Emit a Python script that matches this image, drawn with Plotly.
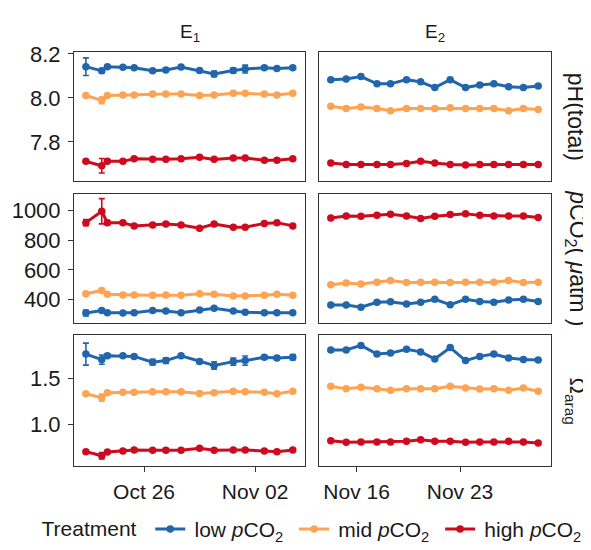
import plotly.graph_objects as go
from plotly.subplots import make_subplots

# ---------------- data ----------------
dates_e1 = ["2020-10-22 08:00", "2020-10-23 08:00", "2020-10-23 16:30", "2020-10-24 16:00",
            "2020-10-25 09:00", "2020-10-26 13:00", "2020-10-27 09:00", "2020-10-28 08:00",
            "2020-10-29 12:00", "2020-10-30 10:00", "2020-10-31 15:00", "2020-11-01 09:00",
            "2020-11-02 14:00", "2020-11-03 09:00", "2020-11-04 09:00"]
dates_e2 = ["2020-11-14 06:00", "2020-11-15 07:00", "2020-11-16 07:00", "2020-11-17 09:00",
            "2020-11-18 07:00", "2020-11-19 09:00", "2020-11-20 08:00", "2020-11-21 07:00",
            "2020-11-22 08:00", "2020-11-23 09:00", "2020-11-24 08:00", "2020-11-25 07:00",
            "2020-11-26 07:00", "2020-11-27 07:00", "2020-11-28 07:00"]

treatments = ["low", "mid", "high"]

# pH (total)
ph_e1_low = [8.142, 8.123, 8.142, 8.139, 8.137, 8.123, 8.127, 8.140, 8.124, 8.109, 8.125, 8.131, 8.137, 8.134, 8.137]
ph_e1_mid = [8.011, 7.989, 8.011, 8.013, 8.013, 8.018, 8.018, 8.018, 8.011, 8.013, 8.021, 8.021, 8.018, 8.013, 8.021]
ph_e1_high = [7.712, 7.692, 7.712, 7.712, 7.724, 7.721, 7.721, 7.724, 7.731, 7.721, 7.727, 7.727, 7.717, 7.717, 7.724]
ph_e1_low_sd = [0.040, 0.010, 0.005, 0.005, 0.005, 0.005, 0.007, 0.005, 0.005, 0.013, 0.012, 0.018, 0.005, 0.006, 0.006]
ph_e1_mid_sd = [0.005, 0.015, 0.004, 0.004, 0.004, 0.004, 0.004, 0.004, 0.004, 0.004, 0.004, 0.004, 0.004, 0.004, 0.004]
ph_e1_high_sd = [0.006, 0.033, 0.006, 0.004, 0.004, 0.004, 0.004, 0.004, 0.004, 0.004, 0.004, 0.004, 0.004, 0.004, 0.004]

ph_e2_low = [8.083, 8.086, 8.097, 8.064, 8.064, 8.083, 8.073, 8.047, 8.083, 8.047, 8.059, 8.064, 8.051, 8.047, 8.054]
ph_e2_mid = [7.962, 7.952, 7.959, 7.952, 7.942, 7.952, 7.952, 7.952, 7.955, 7.952, 7.952, 7.952, 7.942, 7.952, 7.947]
ph_e2_high = [7.705, 7.698, 7.698, 7.698, 7.698, 7.702, 7.712, 7.705, 7.698, 7.695, 7.698, 7.698, 7.698, 7.698, 7.698]

# pCO2 (uatm)
pco2_e1_low = [309, 326, 311, 309, 311, 326, 322, 311, 330, 341, 322, 315, 311, 311, 311]
pco2_e1_mid = [439, 461, 435, 431, 431, 429, 431, 429, 439, 435, 424, 424, 429, 435, 429]
pco2_e1_high = [918, 995, 918, 918, 896, 902, 909, 902, 881, 909, 887, 887, 913, 918, 896]
pco2_e1_low_sd = [20, 10, 6, 5, 5, 6, 6, 5, 6, 6, 6, 6, 5, 5, 5]
pco2_e1_mid_sd = [8, 14, 5, 5, 5, 5, 5, 5, 5, 5, 5, 5, 5, 5, 5]
pco2_e1_high_sd = [20, 85, 14, 10, 6, 6, 6, 6, 6, 6, 6, 6, 6, 6, 6]

pco2_e2_low = [363, 363, 348, 381, 385, 370, 381, 402, 365, 402, 387, 381, 396, 402, 387]
pco2_e2_mid = [500, 511, 504, 517, 528, 515, 517, 517, 515, 517, 517, 517, 528, 515, 517]
pco2_e2_high = [950, 963, 961, 967, 974, 963, 946, 961, 972, 978, 967, 963, 963, 963, 952]

# Omega aragonite
om_e1_low = [1.764, 1.704, 1.746, 1.746, 1.739, 1.676, 1.693, 1.746, 1.682, 1.640, 1.682, 1.693, 1.729, 1.722, 1.729]
om_e1_mid = [1.331, 1.289, 1.342, 1.349, 1.349, 1.352, 1.352, 1.352, 1.334, 1.342, 1.359, 1.352, 1.349, 1.331, 1.359]
om_e1_high = [0.700, 0.655, 0.697, 0.707, 0.718, 0.715, 0.715, 0.715, 0.736, 0.715, 0.718, 0.718, 0.707, 0.700, 0.718]
om_e1_low_sd = [0.12, 0.05, 0.02, 0.015, 0.015, 0.03, 0.03, 0.015, 0.02, 0.04, 0.04, 0.05, 0.02, 0.02, 0.03]
om_e1_mid_sd = [0.015, 0.04, 0.01, 0.01, 0.01, 0.01, 0.01, 0.01, 0.01, 0.01, 0.01, 0.01, 0.01, 0.01, 0.01]
om_e1_high_sd = [0.015, 0.035, 0.01, 0.01, 0.01, 0.01, 0.01, 0.01, 0.01, 0.01, 0.01, 0.01, 0.01, 0.01, 0.01]

om_e2_low = [1.809, 1.809, 1.859, 1.764, 1.775, 1.817, 1.788, 1.711, 1.835, 1.693, 1.739, 1.764, 1.722, 1.704, 1.700]
om_e2_mid = [1.412, 1.387, 1.402, 1.387, 1.370, 1.387, 1.387, 1.387, 1.412, 1.394, 1.384, 1.387, 1.370, 1.394, 1.359]
om_e2_high = [0.820, 0.802, 0.806, 0.806, 0.806, 0.813, 0.830, 0.813, 0.813, 0.802, 0.806, 0.806, 0.813, 0.806, 0.795]

ph_ticks = [7.8, 8.0, 8.2]
pco2_ticks = [400, 600, 800, 1000]
om_ticks = [1.0, 1.5]
e1_ticks = ["2020-10-26", "2020-11-02"]
e1_ticklabels = ["Oct 26", "Nov 02"]
e2_ticks = ["2020-11-16", "2020-11-23"]
e2_ticklabels = ["Nov 16", "Nov 23"]

# ---------------- styling ----------------
colors = {"low": "#2166ac", "mid": "#fda352", "high": "#cf0a1f"}
names = {"low": "\u2009low <i>p</i>CO<sub>2</sub>\u00a0",
         "mid": "\u2009mid <i>p</i>CO<sub>2</sub>\u00a0",
         "high": "\u2009high <i>p</i>CO<sub>2</sub>"}
FONT = "Liberation Sans, Arial, sans-serif"
AX = "#333333"
TXT = "#1a1a1a"

fig = make_subplots(rows=3, cols=2)

panels = [
    (1, 1, dates_e1, {"low": (ph_e1_low, ph_e1_low_sd), "mid": (ph_e1_mid, ph_e1_mid_sd), "high": (ph_e1_high, ph_e1_high_sd)}),
    (1, 2, dates_e2, {"low": (ph_e2_low, None), "mid": (ph_e2_mid, None), "high": (ph_e2_high, None)}),
    (2, 1, dates_e1, {"low": (pco2_e1_low, pco2_e1_low_sd), "mid": (pco2_e1_mid, pco2_e1_mid_sd), "high": (pco2_e1_high, pco2_e1_high_sd)}),
    (2, 2, dates_e2, {"low": (pco2_e2_low, None), "mid": (pco2_e2_mid, None), "high": (pco2_e2_high, None)}),
    (3, 1, dates_e1, {"low": (om_e1_low, om_e1_low_sd), "mid": (om_e1_mid, om_e1_mid_sd), "high": (om_e1_high, om_e1_high_sd)}),
    (3, 2, dates_e2, {"low": (om_e2_low, None), "mid": (om_e2_mid, None), "high": (om_e2_high, None)}),
]

first = True
for r, c, dts, series in panels:
    for t in ["high", "mid", "low"]:
        vals, sd = series[t]
        err = None
        if sd is not None:
            err = dict(type="data", array=sd, visible=True, color=colors[t], thickness=1.6, width=3)
        fig.add_trace(go.Scatter(
            x=dts, y=vals, mode="lines+markers", name=names[t],
            legendgroup=t, showlegend=first,
            line=dict(color=colors[t], width=3),
            marker=dict(color=colors[t], size=7.5),
            error_y=err,
        ), row=r, col=c)
    first = False

# The page has the browser's default 8px body margin: the figure is sized to
# fill the remaining window and positions are given in window pixels.
PAGE_W, PAGE_H = 591, 550
OFF = 8
W, H = PAGE_W - OFF, PAGE_H - OFF


def px_x(x):
    return (x - OFF) / W


def px_y(y):
    return 1 - (y - OFF) / H


xd = [[px_x(74), px_x(305)], [px_x(319), px_x(551)]]
yd = [[px_y(176), px_y(43)], [px_y(323), px_y(190)], [px_y(470), px_y(335)]]
yranges = [[7.624, 8.209], [241, 1109], [0.549, 1.975]]
yticks = [ph_ticks, pco2_ticks, om_ticks]
ytickfmt = [".1f", "d", ".1f"]
xranges = [["2020-10-21 14:00", "2020-11-05 03:30"], ["2020-11-13 10:50", "2020-11-29 03:50"]]
xticks = [(e1_ticks, e1_ticklabels), (e2_ticks, e2_ticklabels)]

for r in range(3):
    for c in range(2):
        idx = r * 2 + c + 1
        sfx = "" if idx == 1 else str(idx)
        bottom = (r == 2)
        left = (c == 0)
        fig.layout["xaxis" + sfx].update(
            domain=xd[c], range=xranges[c], type="date",
            tickvals=xticks[c][0], ticktext=xticks[c][1],
            showticklabels=bottom, ticks="outside" if bottom else "",
            ticklen=5, tickwidth=1, tickcolor=AX, ticklabelstandoff=2,
            showline=True, mirror=True, linecolor=AX, linewidth=1,
            showgrid=False, zeroline=False,
            tickfont=dict(family=FONT, size=21, color=TXT),
        )
        fig.layout["yaxis" + sfx].update(
            domain=yd[r], range=yranges[r],
            tickvals=yticks[r], tickformat=ytickfmt[r],
            showticklabels=left, ticks="outside" if left else "",
            ticklen=5, tickwidth=1, tickcolor=AX, ticklabelstandoff=3,
            showline=True, mirror=True, linecolor=AX, linewidth=1,
            showgrid=False, zeroline=False,
            tickfont=dict(family=FONT, size=22, color=TXT),
        )

annots = [
    dict(text="E<sub>1</sub>", x=px_x((74 + 305) / 2), y=px_y(24), size=19, angle=0),
    dict(text="E<sub>2</sub>", x=px_x((319 + 551) / 2), y=px_y(24), size=19, angle=0),
    dict(text="pH(total)", x=px_x(576), y=px_y(110), size=23, angle=90),
    dict(text="<i>p</i>CO<sub>2</sub>( <i>μ</i>atm )", x=px_x(577), y=px_y(256), size=23, angle=90),
    dict(text="Ω<sub>arag</sub>", x=px_x(576), y=px_y(403), size=22, angle=90),
]
for a in annots:
    fig.add_annotation(text=a["text"], x=a["x"], y=a["y"], xref="paper", yref="paper",
                       xanchor="center", yanchor="middle", showarrow=False, textangle=a["angle"],
                       font=dict(family=FONT, size=a["size"], color=TXT))

fig.update_layout(
    width=W, height=H, autosize=False,
    margin=dict(l=0, r=0, t=0, b=0),
    paper_bgcolor="white", plot_bgcolor="white",
    font=dict(family=FONT, size=21, color=TXT),
    legend=dict(orientation="h", x=px_x(313), xanchor="center", y=px_y(536), yanchor="middle",
                traceorder="reversed",
                title=dict(text="Treatment ", side="left", font=dict(family=FONT, size=21, color=TXT)),
                font=dict(family=FONT, size=21, color=TXT), itemwidth=30, tracegroupgap=0),
)

fig.write_html("out.html", config={"displayModeBar": False})
